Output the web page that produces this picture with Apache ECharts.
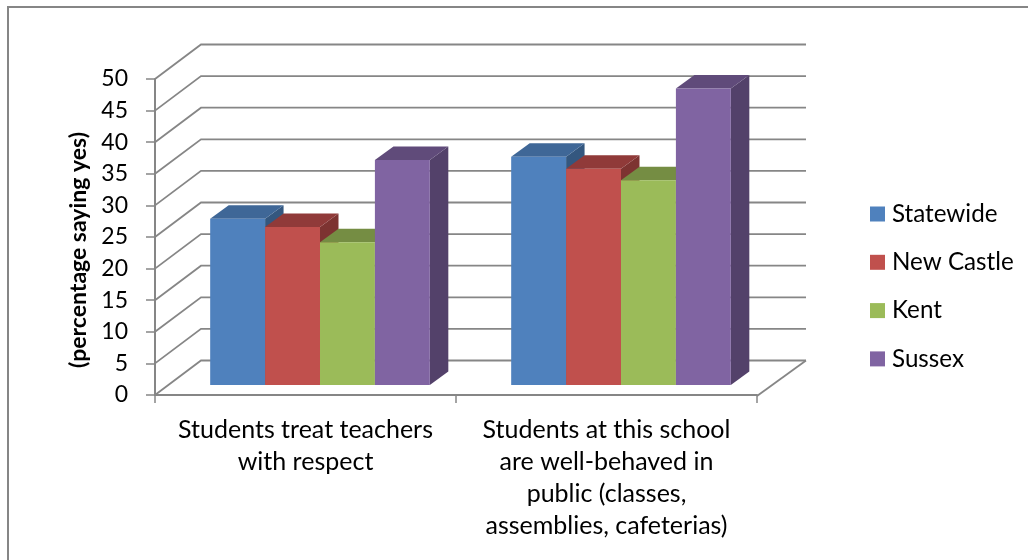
<!DOCTYPE html>
<html>
<head>
<meta charset="utf-8">
<style>html,body{margin:0;padding:0;background:#fff}#c{width:1028px;height:560px}</style>
<script src="https://cdn.jsdelivr.net/npm/echarts@6/dist/echarts.min.js"></script>
</head>
<body>
<div id="c"></div>
<script>
const categories = ["Students treat teachers\nwith respect", "Students at this school\nare well-behaved in\npublic (classes,\nassemblies, cafeterias)"];
const yTicks = [0,5,10,15,20,25,30,35,40,45,50];
const statewide = [26.3, 36.1];
const newCastle = [25.0, 34.2];
const kent = [22.6, 32.4];
const sussex = [35.6, 46.9];
const seriesNames = ["Statewide","New Castle","Kent","Sussex"];
const seriesValues = [statewide,newCastle,kent,sussex];
const faceColors = ["#4F81BD","#C0504D","#9BBB59","#8064A2"];
const topColors = ["#3F6797","#903A39","#758D43","#604B7A"];
const sideColors = ["#34577F","#7D3331","#657A3A","#53416A"];
const axisTitle = "(percentage saying yes)";

const FONT = "Lato";
const GRAY = "#868686";
const WALL_DX_LEFT = 46, WALL_DX_RIGHT = 49, WALL_DY = 34.5;
const BAR_DX = 18.5, BAR_DY = 13.5;
const BAR_SHIFT_X = 14.5, BAR_SHIFT_Y = 10;
const BAR_RATIO = 55 / 301.5;

const chart = echarts.init(document.getElementById('c'), null, {renderer:'canvas'});

function wallItem(params, api){
  const cs = params.coordSys;
  const y = api.coord([0, api.value(1)])[1];
  const x0 = cs.x, xb = cs.x + WALL_DX_LEFT, xe = cs.x + cs.width + WALL_DX_RIGHT, yb = y - WALL_DY;
  const pts = [[x0, y],[xb, yb],[xe, yb]];
  const children = [{type:'polyline', shape:{points:pts}, style:{stroke:GRAY, lineWidth:1.8, fill:null}}];
  if (api.value(1) === 0) {
    children.push({type:'line', shape:{x1:cs.x+cs.width, y1:y+1, x2:xe, y2:yb}, style:{stroke:GRAY, lineWidth:1.8}});
  }
  return {type:'group', children};
}

function barItem(si){
  return function(params, api){
    const w = api.size([1,0])[0] * BAR_RATIO;
    const c = api.coord([api.value(0), api.value(1)]);
    const b = api.coord([api.value(0), 0]);
    const x = c[0] + BAR_SHIFT_X + (si - 2) * w;
    const top = c[1] - BAR_SHIFT_Y, base = b[1] - BAR_SHIFT_Y;
    return {type:'group', children:[
      {type:'polygon', shape:{points:[[x+w,top],[x+w+BAR_DX,top-BAR_DY],[x+w+BAR_DX,base-BAR_DY],[x+w,base]]}, style:{fill:sideColors[si]}},
      {type:'polygon', shape:{points:[[x,top],[x+BAR_DX,top-BAR_DY],[x+w+BAR_DX,top-BAR_DY],[x+w,top]]}, style:{fill:topColors[si]}},
      {type:'rect', shape:{x:x,y:top,width:w,height:base-top}, style:{fill:faceColors[si]}}
    ]};
  };
}

chart.setOption({
  animation:false,
  backgroundColor:'#fff',
  color:faceColors,
  grid:{left:155,top:79,width:602,height:316,containLabel:false},
  xAxis:{type:'category',data:categories,
    axisLine:{lineStyle:{color:GRAY,width:2}},
    axisTick:{show:true,length:8,alignWithLabel:false,lineStyle:{color:GRAY,width:1.5}},
    axisLabel:{interval:0,margin:19,fontFamily:FONT,fontSize:25,lineHeight:32,color:'#000',align:'center'}},
  yAxis:{type:'value',min:0,max:50,interval:5,
    axisLine:{show:true,lineStyle:{color:GRAY,width:2}},
    axisTick:{show:true,length:9,lineStyle:{color:GRAY,width:1.5}},
    splitLine:{show:false},
    axisLabel:{margin:27,fontFamily:FONT,fontSize:23,color:'#000'}},
  legend:{orient:'vertical',left:870,top:201,padding:0,itemWidth:15,itemHeight:15,itemGap:22.3,icon:'rect',
    data:seriesNames,selectedMode:false,
    textStyle:{fontFamily:FONT,fontSize:24.2,color:'#000',padding:[0,0,0,2],lineHeight:26}},
  graphic:[
    {type:'rect',silent:true,z:-1,shape:{x:8,y:7,width:1040,height:580},style:{stroke:GRAY,lineWidth:2,fill:'none'}},
    {type:'text',x:79,y:250,rotation:Math.PI/2,style:{text:axisTitle,fontFamily:FONT,fontWeight:'bold',fontSize:23,fill:'#000',textAlign:'center',textVerticalAlign:'middle'}}
  ],
  series:[
    {type:'custom',name:'wall',silent:true,clip:false,z:1,data:yTicks.map(v=>[0,v]),encode:{x:0,y:1},renderItem:wallItem,itemStyle:{color:GRAY}},
    ...seriesNames.map((n,si)=>({type:'custom',name:n,clip:false,z:2+si,
      data:seriesValues[si].map((v,i)=>[i,v]),encode:{x:0,y:1},
      itemStyle:{color:faceColors[si]},renderItem:barItem(si)}))
  ]
});
</script>
</body>
</html>
